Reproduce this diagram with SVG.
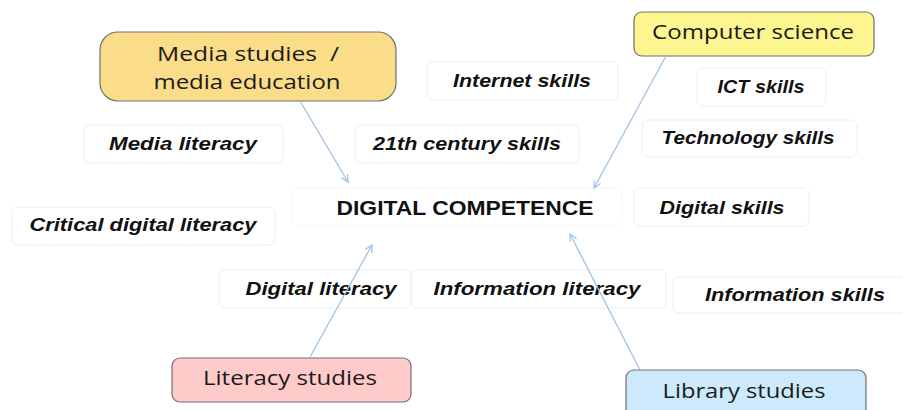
<svg xmlns="http://www.w3.org/2000/svg" width="903" height="410" viewBox="0 0 903 410">
<defs>
<marker id="ah" viewBox="0 0 10 10" refX="9" refY="5" markerWidth="9" markerHeight="9" orient="auto" markerUnits="userSpaceOnUse">
<path d="M1,1 L9,5 L1,9" fill="none" stroke="#9dc3e6" stroke-width="1.4"/>
</marker>
<style>
.term rect{fill:#fff;stroke:#e6eef8;stroke-width:1}
.term text{font-family:"Liberation Sans",Arial,sans-serif;font-size:19px;font-weight:bold;font-style:italic;fill:#111;text-anchor:middle}
.field rect{stroke:#707070;stroke-width:1.2}
.field text{font-family:"Open Sans","Liberation Sans",sans-serif;font-size:20px;fill:#1a1a1a;text-anchor:middle}
.core text{font-family:"Liberation Sans",Arial,sans-serif;font-size:21px;font-weight:bold;fill:#111;text-anchor:middle}
.conn line{stroke:#9dc3e6;stroke-width:1.3;marker-end:url(#ah)}
</style>
</defs>
<rect width="903" height="410" fill="#fff"/>

<g id="media-studies" class="field">
<rect x="100" y="32" width="296" height="69" rx="18" fill="#fbdc88"/>
<text x="248" y="61" textLength="182" lengthAdjust="spacingAndGlyphs" style="white-space:pre">Media studies  /</text>
<text x="247" y="89" textLength="187" lengthAdjust="spacingAndGlyphs">media education</text>
</g>
<g id="computer-science" class="field">
<rect x="634" y="12" width="240" height="44" rx="8" fill="#fdf590"/>
<text x="753" y="39" textLength="202" lengthAdjust="spacingAndGlyphs">Computer science</text>
</g>
<g id="literacy-studies" class="field">
<rect x="172" y="358" width="239" height="44" rx="8" fill="#ffcaca"/>
<text x="290" y="385" textLength="174" lengthAdjust="spacingAndGlyphs">Literacy studies</text>
</g>
<g id="library-studies" class="field">
<rect x="626" y="370" width="240" height="50" rx="8" fill="#cdeafc"/>
<text x="744" y="398" textLength="163" lengthAdjust="spacingAndGlyphs">Library studies</text>
</g>

<g id="digital-competence" class="core">
<rect x="292" y="188" width="330" height="38" rx="8" fill="#fff" stroke="#f3f6fa"/>
<text x="465" y="215" textLength="257" lengthAdjust="spacingAndGlyphs">DIGITAL COMPETENCE</text>
</g>

<g id="internet-skills" class="term"><rect x="427" y="62" width="191" height="38" rx="6"/><text x="522" y="87" textLength="138" lengthAdjust="spacingAndGlyphs">Internet skills</text></g>
<g id="ict-skills" class="term"><rect x="697" y="68" width="129" height="38" rx="6"/><text x="761" y="93" textLength="87" lengthAdjust="spacingAndGlyphs">ICT skills</text></g>
<g id="technology-skills" class="term"><rect x="642" y="120" width="215" height="37" rx="6"/><text x="748" y="144" textLength="173" lengthAdjust="spacingAndGlyphs">Technology skills</text></g>
<g id="media-literacy" class="term"><rect x="84" y="125" width="199" height="38" rx="6"/><text x="183" y="150" textLength="148" lengthAdjust="spacingAndGlyphs">Media literacy</text></g>
<g id="century-skills" class="term"><rect x="355" y="125" width="224" height="38" rx="6"/><text x="467" y="150" textLength="188" lengthAdjust="spacingAndGlyphs">21th century skills</text></g>
<g id="critical-digital-literacy" class="term"><rect x="12" y="207" width="263" height="38" rx="6"/><text x="143" y="231" textLength="227" lengthAdjust="spacingAndGlyphs">Critical digital literacy</text></g>
<g id="digital-skills" class="term"><rect x="634" y="188" width="175" height="38" rx="6"/><text x="722" y="214" textLength="125" lengthAdjust="spacingAndGlyphs">Digital skills</text></g>
<g id="digital-literacy" class="term"><rect x="219" y="270" width="192" height="38" rx="6"/><text x="321" y="295" textLength="151" lengthAdjust="spacingAndGlyphs">Digital literacy</text></g>
<g id="information-literacy" class="term"><rect x="411" y="270" width="255" height="38" rx="6"/><text x="537" y="295" textLength="207" lengthAdjust="spacingAndGlyphs">Information literacy</text></g>
<g id="information-skills" class="term"><rect x="673" y="277" width="240" height="36" rx="6"/><text x="795" y="301" textLength="180" lengthAdjust="spacingAndGlyphs">Information skills</text></g>

<g id="connectors" class="conn">
<line x1="300" y1="101" x2="348" y2="182"/>
<line x1="666" y1="56" x2="594" y2="188"/>
<line x1="310" y1="357" x2="372" y2="245"/>
<line x1="640" y1="370" x2="570" y2="234"/>
</g>
</svg>
